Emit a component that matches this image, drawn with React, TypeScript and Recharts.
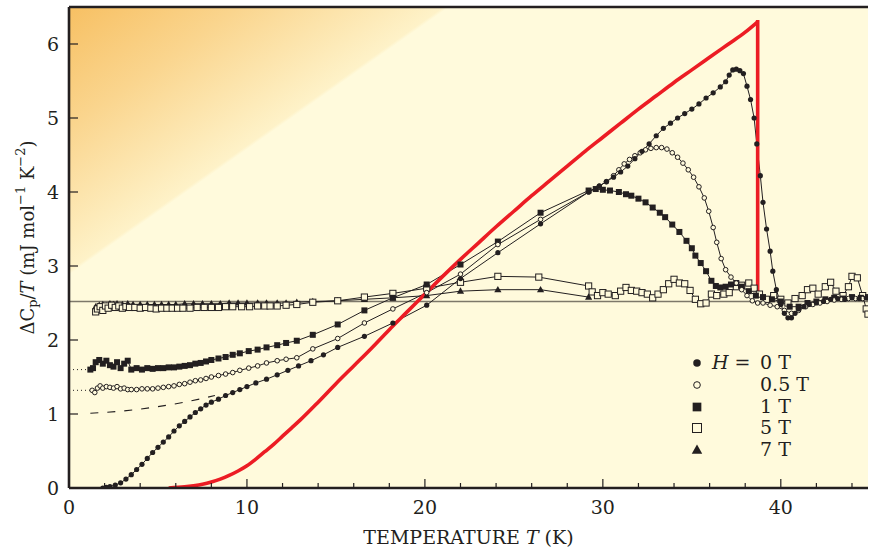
import React from 'react';
import { LineChart, Line, XAxis, YAxis, ReferenceArea, ReferenceLine } from 'recharts';

const INK = '#231f20';
const BG = '#fffadc';
const RED = '#ec1c24';
const FONT = '"DejaVu Serif", serif';

const xTicks = [0, 2, 4, 6, 8, 10, 12, 14, 16, 18, 20, 22, 24, 26, 28, 30, 32, 34, 36, 38, 40, 42, 44];
const xLabelTicks = [0, 10, 20, 30, 40];
const yTicks = [0, 1, 2, 3, 4, 5, 6];
const baselineLevel = 2.52;

// theoretical curve (red), rising part
const bcsCurve = [
  [5.6, 0], [6.5, 0.015], [7, 0.03], [7.5, 0.05], [8, 0.08], [8.5, 0.12], [9, 0.17], [9.5, 0.23], [10, 0.3],
  [10.5, 0.39], [11, 0.49], [11.5, 0.59], [12, 0.7], [12.5, 0.81], [13, 0.92], [14, 1.16], [15, 1.41], [16, 1.65],
  [17, 1.89], [18, 2.14], [19, 2.38], [20, 2.62], [21, 2.86], [22, 3.09], [23, 3.31], [24, 3.53], [25, 3.74],
  [26, 3.95], [27, 4.15], [28, 4.35], [29, 4.55], [30, 4.74], [31, 4.93], [32, 5.12], [33, 5.3], [34, 5.48],
  [35, 5.65], [36, 5.82], [37, 5.99], [38, 6.16], [38.7, 6.3],
];
// theoretical curve (red), jump at Tc
const bcsJump = [[38.7, 6.3], [38.7, 2.68]];

// H = 0 T (filled circles)
const field0 = [
  [1.9, 0], [2.1, 0.01], [2.3, 0.02], [2.6, 0.04], [2.9, 0.07], [3.2, 0.12], [3.5, 0.18], [3.8, 0.25], [4.1, 0.32],
  [4.4, 0.4], [4.7, 0.48], [5.0, 0.55], [5.3, 0.62], [5.6, 0.69], [5.9, 0.77], [6.2, 0.84], [6.5, 0.9], [6.8, 0.96],
  [7.1, 1.02], [7.4, 1.07], [7.7, 1.12], [8.0, 1.16], [8.4, 1.2], [8.8, 1.25], [9.2, 1.29], [9.6, 1.33], [10.0, 1.37],
  [10.5, 1.42], [11.1, 1.47], [11.7, 1.53], [12.3, 1.59], [12.9, 1.65], [13.6, 1.72], [14.3, 1.8], [15.1, 1.9],
  [16.6, 2.05], [18.2, 2.23], [20.1, 2.47], [22, 2.83], [24.1, 3.18], [26.5, 3.57], [29.2, 4.0], [29.8, 4.08],
  [30.2, 4.14], [30.6, 4.2], [31.0, 4.27], [31.4, 4.35], [31.8, 4.45], [32.2, 4.55], [32.6, 4.65], [33.0, 4.76],
  [33.4, 4.86], [33.8, 4.93], [34.2, 5.0], [34.6, 5.06], [35.0, 5.12], [35.4, 5.19], [35.8, 5.27], [36.2, 5.34],
  [36.6, 5.42], [36.9, 5.49], [37.1, 5.58], [37.3, 5.65], [37.5, 5.66], [37.7, 5.64], [37.9, 5.6], [38.1, 5.43],
  [38.3, 5.25], [38.5, 5.0], [38.65, 4.65], [38.85, 4.22], [39.0, 3.86], [39.2, 3.5], [39.4, 3.2], [39.55, 2.93],
  [39.75, 2.68], [40.0, 2.48], [40.2, 2.36], [40.4, 2.3], [40.6, 2.3], [40.8, 2.36], [41.0, 2.42], [41.3, 2.45],
  [41.6, 2.48], [42.0, 2.5], [42.4, 2.52], [42.8, 2.55], [43.2, 2.56], [43.6, 2.55], [44.0, 2.57], [44.4, 2.56],
  [44.8, 2.57],
];

// H = 0.5 T (open circles)
const field05 = [
  [1.3, 1.32], [1.45, 1.29], [1.6, 1.35], [1.75, 1.38], [1.9, 1.35], [2.1, 1.37], [2.3, 1.36], [2.5, 1.35],
  [2.7, 1.37], [2.9, 1.34], [3.1, 1.35], [3.3, 1.33], [3.5, 1.33], [3.8, 1.33], [4.1, 1.34], [4.4, 1.34],
  [4.7, 1.34], [5.0, 1.35], [5.3, 1.36], [5.6, 1.37], [5.9, 1.38], [6.2, 1.4], [6.5, 1.41], [6.8, 1.43],
  [7.1, 1.45], [7.4, 1.46], [7.7, 1.48], [8.0, 1.5], [8.4, 1.52], [8.8, 1.54], [9.2, 1.56], [9.6, 1.59],
  [10.1, 1.62], [10.6, 1.65], [11.1, 1.69], [11.7, 1.72], [12.2, 1.74], [12.8, 1.76], [13.7, 1.88], [15.1, 2.02],
  [16.6, 2.23], [18.2, 2.42], [20.1, 2.64], [22, 2.89], [24.1, 3.29], [26.5, 3.63], [29.2, 4.0], [29.8, 4.08],
  [30.2, 4.14], [30.6, 4.22], [30.9, 4.3], [31.2, 4.38], [31.5, 4.44], [31.8, 4.49], [32.1, 4.53], [32.4, 4.57],
  [32.7, 4.59], [33.0, 4.6], [33.3, 4.6], [33.6, 4.58], [33.9, 4.53], [34.2, 4.47], [34.5, 4.39], [34.8, 4.3],
  [35.1, 4.2], [35.4, 4.07], [35.7, 3.92], [35.95, 3.74], [36.2, 3.52], [36.4, 3.32], [36.65, 3.1], [36.9, 2.95],
  [37.2, 2.85], [37.5, 2.77], [37.8, 2.68], [38.1, 2.6], [38.4, 2.53], [38.7, 2.5], [39.0, 2.5], [39.4, 2.47],
  [39.8, 2.45], [40.2, 2.4], [40.6, 2.36], [41.0, 2.4], [41.4, 2.45], [41.8, 2.48], [42.2, 2.5], [42.6, 2.52],
  [43.0, 2.54], [43.4, 2.55], [43.8, 2.56], [44.2, 2.56], [44.6, 2.56], [44.9, 2.57],
];

// H = 1 T (filled squares)
const field1 = [
  [1.2, 1.6], [1.35, 1.62], [1.5, 1.7], [1.7, 1.73], [1.9, 1.68], [2.1, 1.72], [2.3, 1.66], [2.5, 1.64],
  [2.7, 1.7], [2.9, 1.62], [3.1, 1.68], [3.3, 1.72], [3.5, 1.6], [3.8, 1.62], [4.1, 1.6], [4.4, 1.62],
  [4.7, 1.61], [5.0, 1.62], [5.3, 1.62], [5.6, 1.63], [5.9, 1.63], [6.2, 1.64], [6.5, 1.65], [6.8, 1.66],
  [7.1, 1.68], [7.4, 1.69], [7.7, 1.71], [8.0, 1.73], [8.4, 1.75], [8.8, 1.77], [9.2, 1.8], [9.6, 1.82],
  [10.1, 1.85], [10.6, 1.87], [11.1, 1.9], [11.7, 1.93], [12.2, 1.96], [12.8, 1.99], [13.7, 2.07], [15.1, 2.21],
  [16.6, 2.4], [18.2, 2.57], [20.1, 2.75], [22, 3.02], [24.1, 3.33], [26.5, 3.72], [29.2, 4.02], [29.6, 4.04],
  [30.0, 4.03], [30.4, 4.02], [30.9, 4.0], [31.3, 3.97], [31.6, 3.95], [32.0, 3.91], [32.4, 3.86], [32.8, 3.79],
  [33.2, 3.72], [33.5, 3.66], [33.9, 3.56], [34.3, 3.46], [34.7, 3.34], [35.0, 3.24], [35.2, 3.14], [35.5, 3.04],
  [35.8, 2.93], [36.1, 2.8], [36.35, 2.73], [36.6, 2.71], [36.9, 2.72], [37.2, 2.75], [37.5, 2.77], [37.8, 2.72],
  [38.2, 2.66], [38.6, 2.6], [39.0, 2.58], [39.5, 2.55], [40.0, 2.52], [40.5, 2.45], [41.0, 2.45], [41.5, 2.5],
  [42.0, 2.52], [42.5, 2.55], [43.0, 2.57], [43.5, 2.56], [44.0, 2.58], [44.5, 2.57], [44.9, 2.58],
];

// H = 5 T (open squares)
const field5 = [
  [1.5, 2.38], [1.6, 2.42], [1.75, 2.45], [1.9, 2.4], [2.05, 2.46], [2.2, 2.43], [2.4, 2.47], [2.6, 2.44],
  [2.8, 2.46], [3.0, 2.43], [3.2, 2.45], [3.4, 2.44], [3.7, 2.44], [4.0, 2.43], [4.3, 2.44], [4.6, 2.43],
  [4.9, 2.42], [5.2, 2.43], [5.5, 2.43], [5.8, 2.43], [6.1, 2.43], [6.4, 2.43], [6.8, 2.43], [7.2, 2.44],
  [7.6, 2.44], [8.0, 2.44], [8.4, 2.44], [8.8, 2.45], [9.2, 2.45], [9.7, 2.45], [10.15, 2.45], [10.6, 2.46],
  [11.0, 2.46], [11.3, 2.46], [11.7, 2.46], [12.2, 2.47], [12.8, 2.48], [13.7, 2.51], [15.1, 2.53], [16.6, 2.58],
  [18.2, 2.63], [20.1, 2.7], [22, 2.78], [24.1, 2.86], [26.4, 2.85], [29.2, 2.73], [29.4, 2.65], [29.7, 2.6],
  [30.0, 2.64], [30.3, 2.62], [30.7, 2.6], [31.0, 2.66], [31.3, 2.71], [31.6, 2.67], [31.9, 2.66], [32.2, 2.64],
  [32.5, 2.62], [32.8, 2.57], [33.1, 2.62], [33.4, 2.68], [33.7, 2.76], [34.0, 2.82], [34.3, 2.77], [34.6, 2.76],
  [34.9, 2.67], [35.2, 2.55], [35.5, 2.49], [35.8, 2.5], [36.1, 2.62], [36.4, 2.6], [36.8, 2.62], [37.1, 2.64],
  [37.5, 2.72], [37.8, 2.74], [38.2, 2.77], [38.5, 2.7], [38.8, 2.62], [39.2, 2.55], [39.6, 2.6], [40.0, 2.55],
  [40.4, 2.5], [40.8, 2.56], [41.2, 2.6], [41.5, 2.68], [41.8, 2.7], [42.1, 2.62], [42.5, 2.72], [42.8, 2.78],
  [43.1, 2.66], [43.5, 2.6], [43.8, 2.72], [44.0, 2.86], [44.3, 2.84], [44.6, 2.6], [44.8, 2.42], [44.9, 2.35],
];

// H = 7 T (filled triangles)
const field7 = [
  [1.5, 2.45], [1.7, 2.47], [1.9, 2.48], [2.1, 2.46], [2.3, 2.49], [2.5, 2.48], [2.7, 2.49], [3.0, 2.48],
  [3.3, 2.49], [3.6, 2.48], [4.0, 2.48], [4.4, 2.48], [4.8, 2.48], [5.2, 2.48], [5.6, 2.48], [6.0, 2.48],
  [6.5, 2.49], [7.0, 2.49], [7.5, 2.49], [8.0, 2.49], [8.5, 2.49], [9.0, 2.5], [9.5, 2.5], [10.0, 2.5],
  [10.6, 2.5], [11.1, 2.5], [11.7, 2.5], [12.2, 2.5], [12.8, 2.51], [13.7, 2.52], [15.1, 2.53], [16.6, 2.55],
  [18.2, 2.57], [20.1, 2.6], [22, 2.66], [24.1, 2.68], [26.5, 2.68], [29.2, 2.58],
];

// extrapolations
const normalDashed = [[1.2, 1.01], [3, 1.04], [5, 1.1], [6.5, 1.16], [8.2, 1.25]];
const dotted05 = [[0, 1.32], [1.3, 1.32]];
const dotted1 = [[0, 1.6], [1.2, 1.6]];

const legendRows = [
  { prefix: 'H', value: '0 T', shape: 'filledCircle' },
  { prefix: '', value: '0.5 T', shape: 'openCircle' },
  { prefix: '', value: '1 T', shape: 'filledSquare' },
  { prefix: '', value: '5 T', shape: 'openSquare' },
  { prefix: '', value: '7 T', shape: 'triangle' },
];

const rows = (pts: number[][]) => pts.map(([t, v]) => ({ t, v }));

const Marker = ({ shape, cx, cy, s = 1 }: any) => {
  if (shape === 'filledCircle') return <circle cx={cx} cy={cy} r={2.6 * s} fill={INK} />;
  if (shape === 'openCircle') return <circle cx={cx} cy={cy} r={2.3 * s} fill={BG} stroke={INK} strokeWidth={1} />;
  if (shape === 'filledSquare') return <rect x={cx - 3 * s} y={cy - 3 * s} width={6 * s} height={6 * s} fill={INK} />;
  if (shape === 'openSquare')
    return <rect x={cx - 3.1 * s} y={cy - 3.1 * s} width={6.2 * s} height={6.2 * s} fill={BG} stroke={INK} strokeWidth={1} />;
  return (
    <polygon
      points={`${cx},${cy - 3.8 * s} ${cx + 3.6 * s},${cy + 2.6 * s} ${cx - 3.6 * s},${cy + 2.6 * s}`}
      fill={INK}
    />
  );
};

const makeDot = (shape: string) => (p: any) => {
  if (p.cx == null || p.cy == null) return <g key={`${shape}-${p.index}`} />;
  return (
    <g key={`${shape}-${p.index}`}>
      <Marker shape={shape} cx={p.cx} cy={p.cy} />
    </g>
  );
};

const XTick = (props: any) => {
  const { x, y, payload } = props;
  const major = xLabelTicks.includes(payload.value);
  return (
    <g>
      <line x1={x} x2={x} y1={y} y2={y - (major ? 9 : 5)} stroke={INK} strokeWidth={1.2} />
      {major && (
        <text x={x} y={y + 26} textAnchor="middle" fontFamily={FONT} fontSize={19} fill={INK}>
          {payload.value}
        </text>
      )}
    </g>
  );
};

const YTick = (props: any) => {
  const { x, y, payload } = props;
  return (
    <g>
      <line x1={x} x2={x + 9} y1={y} y2={y} stroke={INK} strokeWidth={1.2} />
      <text x={x - 10} y={y} dy="0.36em" textAnchor="end" fontFamily={FONT} fontSize={19} fill={INK}>
        {payload.value}
      </text>
    </g>
  );
};

const XLabel = (props: any) => {
  const vb = props.viewBox || { x: 69, y: 488, width: 799, height: 60 };
  return (
    <text
      x={vb.x + vb.width / 2}
      y={vb.y + 56}
      textAnchor="middle"
      fontFamily={FONT}
      fontSize={19}
      fill={INK}
      style={{ whiteSpace: 'pre' }}
    >
      <tspan>TEMPERATURE </tspan>
      <tspan fontStyle="italic">T</tspan>
      <tspan> (K)</tspan>
    </text>
  );
};

const YLabel = (props: any) => {
  const vb = props.viewBox || { x: 0, y: 7, width: 69, height: 481 };
  const cx = vb.x + 27;
  const cy = vb.y + vb.height / 2 - 10;
  return (
    <text
      transform={`rotate(-90 ${cx} ${cy})`}
      x={cx}
      y={cy}
      textAnchor="middle"
      dominantBaseline="central"
      fontFamily={FONT}
      fontSize={18}
      fill={INK}
      style={{ whiteSpace: 'pre' }}
    >
      <tspan>ΔC</tspan>
      <tspan fontSize={13} dy={5}>p</tspan>
      <tspan dy={-5}>/</tspan>
      <tspan fontStyle="italic">T</tspan>
      <tspan> (mJ mol</tspan>
      <tspan fontSize={13} dy={-7}>−1</tspan>
      <tspan dy={7}> K</tspan>
      <tspan fontSize={13} dy={-7}>−2</tspan>
      <tspan dy={7}>)</tspan>
    </text>
  );
};

export default function App() {
  return (
    <div style={{ position: 'absolute', left: 0, top: 0, width: 869, height: 548, background: '#ffffff' }}>
      <svg width={0} height={0} style={{ position: 'absolute' }}>
        <defs>
          <linearGradient id="cornerGlow" x1="0" y1="0" x2="0.275" y2="0.235">
            <stop offset="0" stopColor="#f7c063" />
            <stop offset="0.45" stopColor="#fad58e" />
            <stop offset="0.985" stopColor="#fef2c8" />
            <stop offset="1" stopColor={BG} />
          </linearGradient>
        </defs>
      </svg>
      <LineChart width={869} height={548} margin={{ top: 7, right: 1, bottom: 0, left: 0 }}>
        <XAxis
          type="number"
          dataKey="t"
          domain={[0, 44.9]}
          ticks={xTicks}
          interval={0}
          allowDataOverflow
          height={60}
          tickSize={0}
          tickMargin={0}
          tickLine={false}
          tick={<XTick />}
          axisLine={{ stroke: INK, strokeWidth: 2.6 }}
          label={<XLabel />}
        />
        <YAxis
          type="number"
          domain={[0, 6.5]}
          ticks={yTicks}
          interval={0}
          allowDataOverflow
          width={69}
          tickSize={0}
          tickMargin={0}
          tickLine={false}
          tick={<YTick />}
          axisLine={{ stroke: INK, strokeWidth: 2.6 }}
          label={<YLabel />}
        />
        <ReferenceArea
          x1={0}
          x2={44.9}
          y1={0}
          y2={6.5}
          fill="url(#cornerGlow)"
          fillOpacity={1}
          stroke="none"
          zIndex={-200}
        />
        <ReferenceLine y={6.5} stroke={INK} strokeWidth={2.6} />
        <ReferenceLine y={baselineLevel} stroke="#7d786a" strokeWidth={1.4} zIndex={-50} />
        <Line data={rows(dotted1)} dataKey="v" stroke={INK} strokeWidth={1} strokeDasharray="1 3" dot={false} isAnimationActive={false} />
        <Line data={rows(dotted05)} dataKey="v" stroke={INK} strokeWidth={1} strokeDasharray="1 3" dot={false} isAnimationActive={false} />
        <Line data={rows(normalDashed)} type="monotone" dataKey="v" stroke={INK} strokeWidth={1.1} strokeDasharray="8 9" dot={false} isAnimationActive={false} />
        <Line data={rows(field7)} dataKey="v" stroke={INK} strokeWidth={1} dot={makeDot('triangle')} isAnimationActive={false} />
        <Line data={rows(field5)} dataKey="v" stroke={INK} strokeWidth={1} dot={makeDot('openSquare')} isAnimationActive={false} />
        <Line data={rows(field1)} dataKey="v" stroke={INK} strokeWidth={1} dot={makeDot('filledSquare')} isAnimationActive={false} />
        <Line data={rows(field05)} dataKey="v" stroke={INK} strokeWidth={1} dot={makeDot('openCircle')} isAnimationActive={false} />
        <Line data={rows(field0)} dataKey="v" stroke={INK} strokeWidth={1} dot={makeDot('filledCircle')} isAnimationActive={false} />
        <Line data={rows(bcsCurve)} type="monotone" dataKey="v" stroke={RED} strokeWidth={3.6} dot={false} isAnimationActive={false} />
        <Line data={rows(bcsJump)} dataKey="v" stroke={RED} strokeWidth={3.6} strokeLinecap="square" dot={false} isAnimationActive={false} />
      </LineChart>
      <div style={{ position: 'absolute', left: 686, top: 352, fontFamily: FONT, fontSize: 19, color: INK }}>
        {legendRows.map((r, i) => (
          <div key={i} style={{ position: 'relative', height: 21.75, lineHeight: '21.75px', whiteSpace: 'nowrap' }}>
            <svg width={22} height={21.75} style={{ position: 'absolute', left: 0, top: 0 }}>
              <Marker shape={r.shape} cx={11} cy={11} s={1.45} />
            </svg>
            {r.prefix && (
              <span style={{ position: 'absolute', left: 26, top: 0 }}>
                <i>{r.prefix}</i> =
              </span>
            )}
            <span style={{ position: 'absolute', left: 74, top: 0 }}>{r.value}</span>
          </div>
        ))}
      </div>
    </div>
  );
}
